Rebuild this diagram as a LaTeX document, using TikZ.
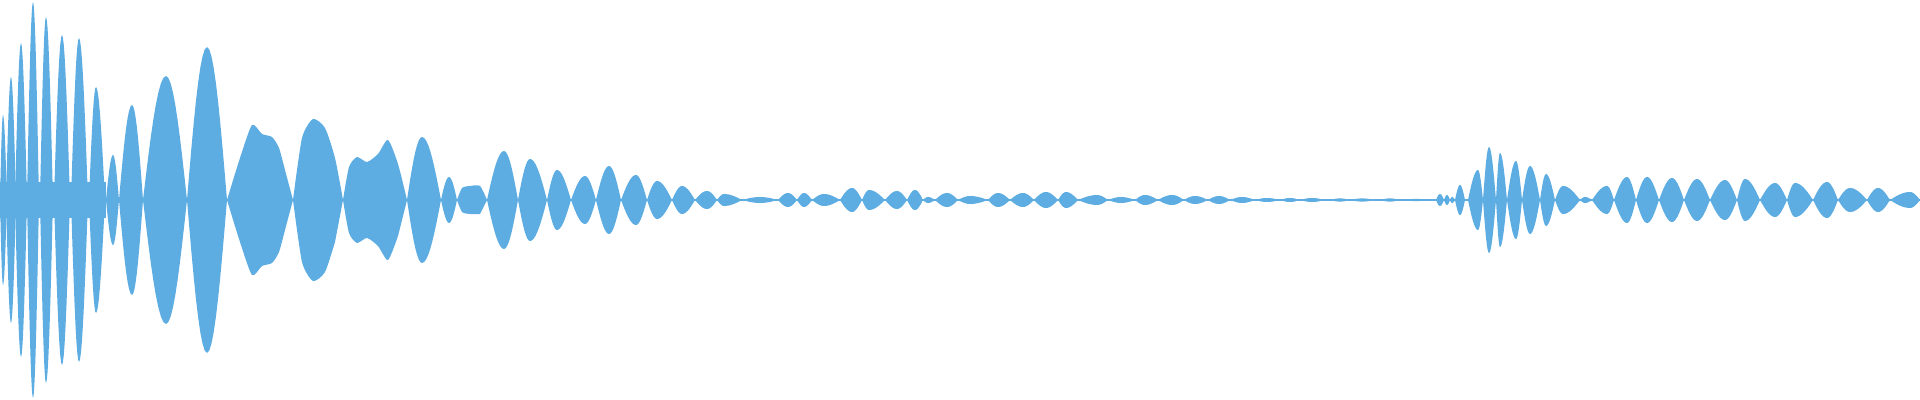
\documentclass[tikz,border=0pt]{standalone}
\definecolor{wavec}{RGB}{93,173,226}
\begin{document}
\begin{tikzpicture}[x=0.01cm,y=0.01cm,wave/.style={fill=wavec}]
\useasboundingbox (0,-200) rectangle (1920,200);
\coordinate (origin) at (0,0);
% base band of the attack
\fill[wave] (0,-18) rectangle (106,18);
\draw[wavec,line width=0.6pt] (0,0) -- (1920,0);
% lobes
\foreach \a/\b/\c/\h in {
0/3/7/85,6/11/16/123,15/21/27/157,27/33/39/198,40/46/53/183,54/62/70/165,71/79/88/162,89/96/105/113,106/113/119/45,
119/132/143/95,143/166/187/124,187/207/227/153,
407/422/441/63,441/449/457/23,487/504/518/49,518/530/547/41,
547/557/571/30,571/585/596/24,596/609/621/34,621/636/647/25,647/657/672/19,
672/682/695/14,695/707/717/9,717/724/742/6,742/760/778/3,778/788/797/7,797/804/812/7,
812/824/840/6,840/852/862/12,862/869/885/10,885/897/907/9,907/915/923/10,923/928/935/3,
935/947/958/7,958/970/988/4,988/998/1010/7,1010/1023/1034/7,1034/1046/1058/8,1058/1066/1078/8,
1078/1097/1108/5,1108/1121/1135/3,1135/1145/1158/5,1158/1172/1184/5,1184/1195/1208/4,
1208/1219/1230/4,1230/1242/1255/3,1255/1267/1280/2,1280/1290/1300/2,1300/1312/1325/2,
1330/1340/1350/1.6,1350/1362/1375/1.6,1380/1390/1400/1.6,1405/1416/1428/1.2,
1436/1440/1444/6,1444/1447/1450/5,1450/1452/1455/3,1455/1460/1465/15,
1468/1478/1483/30,1483/1489/1496/53,1496/1500/1507/47,1507/1516/1522/39,1522/1530/1540/34,
1540/1546/1555/26,1555/1563/1580/14,1580/1585/1592/3,1592/1607/1614/14,1614/1627/1636/23,
1636/1647/1659/23,1659/1672/1684/22,1684/1697/1710/21,1710/1725/1737/20,1737/1745/1760/21,
1760/1775/1787/17,1787/1795/1813/17,1813/1827/1838/18,1838/1850/1867/12,1867/1878/1890/12,
1890/1910/1920/8}
  \fill[wave] plot[domain=\a:\b,samples=10] (\x,{\h*sin(90*(\x-\a)/(\b-\a))})
   -- plot[domain=\b:\c,samples=10] (\x,{\h*cos(90*(\x-\b)/(\c-\b))})
   -- plot[domain=\c:\b,samples=10] (\x,{-\h*cos(90*(\x-\b)/(\c-\b))})
   -- plot[domain=\b:\a,samples=10] (\x,{-\h*sin(90*(\x-\a)/(\b-\a))}) -- cycle;
% irregular lobes
\fill[wave] plot[smooth,tension=0.4] coordinates {(227,0) (240,42) (252,75) (262,66) (272,63) (279,52) (285,30) (293,0)}
  -- plot[smooth,tension=0.4] coordinates {(285,-30) (279,-52) (272,-63) (262,-66) (252,-75) (240,-42) (227,0)} -- cycle;
\fill[wave] plot[smooth,tension=0.4] coordinates {(293,0) (302,62) (313,81) (325,72) (335,42) (343,0)}
  -- plot[smooth,tension=0.4] coordinates {(335,-42) (325,-72) (313,-81) (302,-62) (293,0)} -- cycle;
\fill[wave] plot[smooth,tension=0.4] coordinates {(343,0) (349,33) (357,43) (367,38) (378,46) (388,60) (398,36) (407,0)}
  -- plot[smooth,tension=0.4] coordinates {(398,-36) (388,-60) (378,-46) (367,-38) (357,-43) (349,-33) (343,0)} -- cycle;
\fill[wave] plot[smooth,tension=0.4] coordinates {(457,0) (462,12) (470,14) (480,14) (487,0)}
  -- plot[smooth,tension=0.4] coordinates {(480,-14) (470,-14) (462,-12) (457,0)} -- cycle;
\end{tikzpicture}
\end{document}
